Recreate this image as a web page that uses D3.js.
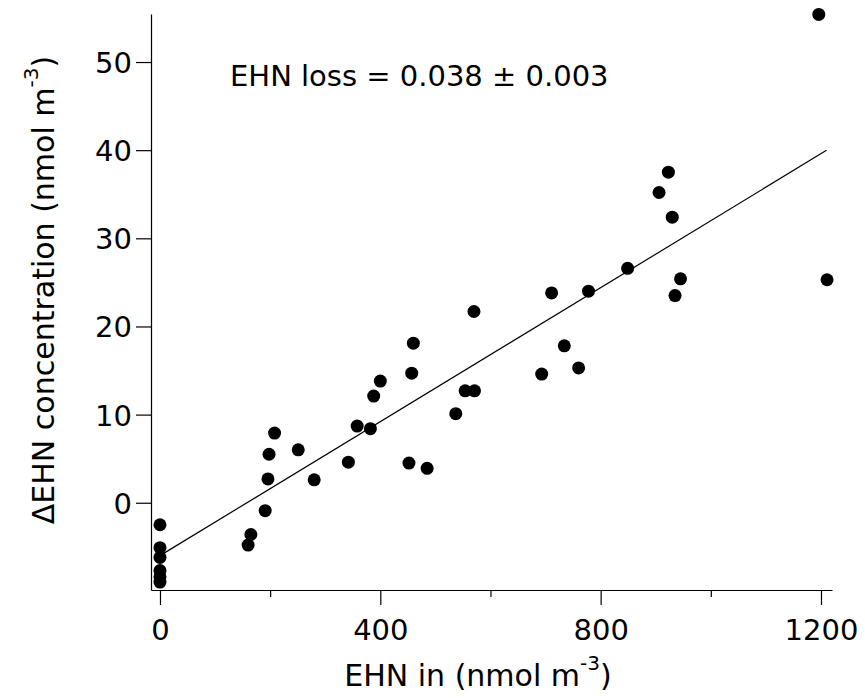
<!DOCTYPE html>
<html>
<head>
<meta charset="utf-8">
<script src="https://cdn.jsdelivr.net/npm/d3@7"></script>
<style>
  body { margin: 0; background: #fff; }
  text { font-family: "DejaVu Sans", sans-serif; fill: #000; }
</style>
</head>
<body>
<svg id="chart" width="865" height="698"></svg>
<script>
// EHN in (nmol m-3)
var ehnIn = [0, 0, 0, 0, 0, 0, 165, 160, 191, 196, 198, 208, 251, 280, 342, 358, 382, 388, 400,
  452, 457, 460, 485, 537, 554, 571, 570, 693, 711, 734, 760, 778, 849, 906, 923, 930, 935, 945, 1196, 1211];
// delta EHN concentration (nmol m-3)
var deltaEhn = [-2.5, -5.1, -6.2, -7.7, -8.4, -9.0, -3.6, -4.8, -0.9, 2.7, 5.5, 7.9, 6.0, 2.6, 4.6, 8.7, 8.4, 12.1, 13.8,
  4.5, 14.7, 18.1, 3.9, 10.1, 12.7, 12.7, 21.7, 14.6, 23.8, 17.8, 15.3, 24.0, 26.6, 35.2, 37.5, 32.4, 23.5, 25.4, 55.4, 25.3];
var fitSlope = 0.038;
var fitIntercept = -6.0;
var fitRange = [0, 1210];
var xTicks = [0, 400, 800, 1200];
var xMinor = [200, 600, 1000];
var yTicks = [0, 10, 20, 30, 40, 50];

var points = ehnIn.map((d, i) => ({x: d, y: deltaEhn[i]}));

var svg = d3.select("#chart");

var x = d3.scaleLinear().domain([-16.3, 1220]).range([151, 832]);
var y = d3.scaleLinear().domain([-9.9, 55.45]).range([590, 14]);

// axes
var xAxis = svg.append("g")
    .attr("transform", "translate(0,590)")
    .call(d3.axisBottom(x).tickValues(xTicks).tickFormat(d3.format("d"))
      .tickSize(15).tickPadding(7).tickSizeOuter(0));
svg.append("g")
    .attr("transform", "translate(0,590)")
    .call(d3.axisBottom(x).tickValues(xMinor).tickSize(7).tickFormat("").tickSizeOuter(0))
    .select(".domain").remove();
var yAxis = svg.append("g")
    .attr("transform", "translate(151,0)")
    .call(d3.axisLeft(y).tickValues(yTicks).tickSize(15).tickPadding(4).tickSizeOuter(0));

svg.selectAll(".domain, .tick line").attr("stroke", "#000").attr("stroke-width", 1.2);
svg.selectAll(".tick text").style("font-size", "29px").attr("fill", "#000");
xAxis.selectAll(".tick text").attr("dy", "0.95em");
yAxis.selectAll(".tick text").attr("dy", "0.36em");

// fit line
svg.append("line")
    .attr("x1", x(fitRange[0])).attr("y1", y(fitIntercept + fitSlope * fitRange[0]))
    .attr("x2", x(fitRange[1])).attr("y2", y(fitIntercept + fitSlope * fitRange[1]))
    .attr("stroke", "#000").attr("stroke-width", 1.2);

// points
svg.append("g")
    .selectAll("circle")
    .data(points)
    .enter()
    .append("circle")
    .attr("cx", d => x(d.x))
    .attr("cy", d => y(d.y))
    .attr("r", 6.5)
    .attr("fill", "#000");

// annotation
svg.append("text")
    .attr("x", 230).attr("y", 86)
    .style("font-size", "29px")
    .text("EHN loss = 0.038 \u00B1 0.003");

// x title
var xt = svg.append("text")
    .attr("x", 478).attr("y", 686)
    .attr("text-anchor", "middle")
    .style("font-size", "30px");
xt.append("tspan").text("EHN in (nmol m");
xt.append("tspan").attr("dy", -16).style("font-size", "20px").text("-3");
xt.append("tspan").attr("dy", 16).text(")");

// y title
var yt = svg.append("text")
    .attr("transform", "translate(54,290) rotate(-90)")
    .attr("text-anchor", "middle")
    .style("font-size", "30px");
yt.append("tspan").text("\u0394EHN concentration (nmol m");
yt.append("tspan").attr("dy", -16).style("font-size", "20px").text("-3");
yt.append("tspan").attr("dy", 16).text(")");
</script>
</body>
</html>
